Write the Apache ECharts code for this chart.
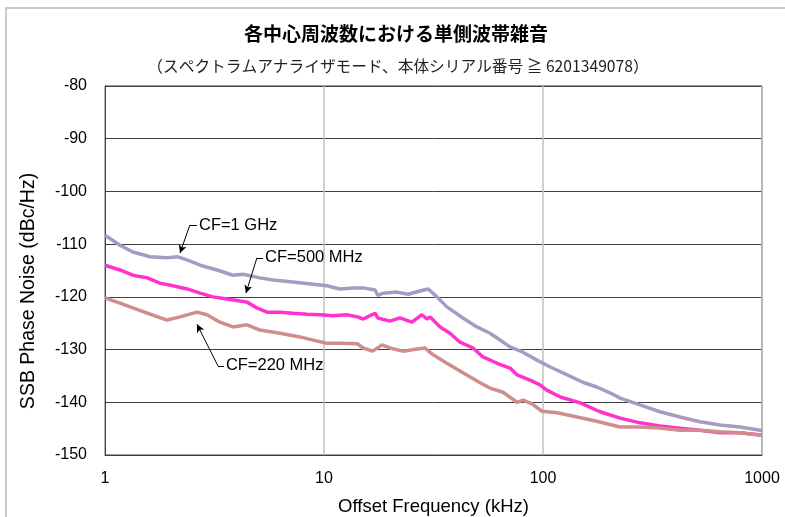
<!DOCTYPE html>
<html>
<head>
<meta charset="utf-8">
<script src="https://cdn.jsdelivr.net/npm/echarts@6/dist/echarts.min.js"></script>
<style>
  html, body { margin: 0; padding: 0; background: #fff; }
  #chart { width: 785px; height: 517px; }
</style>
</head>
<body>
<div id="chart"></div>
<script>
// Offset frequency (kHz) and SSB phase noise (dBc/Hz) for each carrier frequency
const cf1GHzFreq = [1, 1.02, 1.17, 1.34, 1.61, 1.92, 2.15, 2.37, 2.72, 3.25, 3.84, 4.27, 5.10, 5.85, 7.22, 8.91, 10.3, 11.8, 13.6, 15.1, 17.1, 17.6, 18.6, 21.5, 24.2, 27.4, 29.9, 32.8, 36.4, 43.1, 49.9, 57.3, 61.7, 70.7, 81.0, 93.9, 108, 129, 152, 176, 202, 225, 277, 342, 422, 521, 643, 793, 979, 1000];
const cf1GHzDb = [-108.3, -108.6, -110.2, -111.5, -112.4, -112.6, -112.4, -113.0, -114.0, -114.9, -115.9, -115.7, -116.4, -116.8, -117.2, -117.6, -117.9, -118.5, -118.3, -118.3, -118.7, -119.7, -119.3, -119.1, -119.5, -118.9, -118.5, -120.0, -121.9, -124.0, -125.7, -126.9, -127.8, -129.5, -130.5, -132.0, -133.3, -134.8, -136.2, -137.1, -138.2, -139.2, -140.5, -141.8, -142.8, -143.7, -144.3, -144.7, -145.3, -145.3];

const cf500MHzFreq = [1, 1.02, 1.17, 1.34, 1.56, 1.78, 2.04, 2.37, 2.72, 3.11, 3.61, 4.14, 4.45, 4.94, 5.49, 6.30, 7.22, 8.36, 9.59, 11.0, 12.7, 14.2, 15.1, 17.1, 17.6, 20.0, 22.2, 25.2, 28.0, 29.5, 30.5, 33.9, 37.6, 41.8, 47.9, 53.2, 61.7, 70.7, 76.1, 87.2, 96.9, 104, 120, 148, 182, 225, 277, 342, 422, 521, 643, 793, 979, 1000];
const cf500MHzDb = [-114.0, -114.1, -114.9, -115.9, -116.4, -117.4, -117.9, -118.5, -119.3, -120.0, -120.4, -120.8, -121.0, -122.1, -122.9, -122.9, -123.1, -123.3, -123.4, -123.6, -123.4, -123.8, -124.2, -123.1, -124.0, -124.6, -124.0, -124.8, -123.4, -124.2, -123.8, -125.7, -126.9, -128.6, -129.7, -131.4, -132.6, -133.5, -134.8, -135.8, -136.7, -137.7, -139.0, -140.1, -141.8, -143.0, -143.9, -144.5, -144.9, -145.3, -145.8, -145.8, -146.2, -146.2];

const cf220MHzFreq = [1, 1.02, 1.17, 1.34, 1.61, 1.92, 2.20, 2.63, 2.92, 3.35, 3.84, 4.45, 5.10, 6.30, 7.77, 8.91, 10.3, 11.8, 14.2, 15.1, 16.7, 18.4, 20.0, 22.9, 26.6, 28.9, 31.5, 36.4, 43.1, 51.6, 57.3, 65.7, 76.1, 81.0, 89.1, 98.9, 116, 143, 176, 225, 277, 342, 422, 521, 643, 793, 979, 1000];
const cf220MHzDb = [-120.2, -120.4, -121.2, -122.1, -123.3, -124.4, -123.8, -122.9, -123.4, -124.8, -125.7, -125.3, -126.3, -126.9, -127.6, -128.2, -128.8, -128.8, -128.9, -129.7, -130.3, -129.1, -129.7, -130.3, -129.9, -129.7, -131.0, -132.6, -134.4, -136.3, -137.3, -138.1, -140.0, -139.6, -140.3, -141.7, -142.0, -142.8, -143.6, -144.7, -144.7, -144.9, -145.3, -145.3, -145.6, -145.8, -146.2, -146.2];

// Axis ticks
const xTicks = [1, 10, 100, 1000];
const yTicks = [-150, -140, -130, -120, -110, -100, -90, -80];

// Callout labels: text anchor and leader line points [freq, dB]
const calloutText = ['CF=1 GHz', 'CF=500 MHz', 'CF=220 MHz'];
const calloutAnchor = [[2.63, -106.4], [5.27, -112.6], [3.49, -133.1]];
const calloutBend = [[2.44, -106.4], [4.94, -112.6], [3.28, -133.1]];
const calloutTip = [[2.20, -111.7], [4.40, -119.3], [2.63, -125.2]];

const zip = (xs, ys) => xs.map((x, i) => [x, ys[i]]);

const FONT = '"Liberation Sans", Arial, sans-serif';
const JP = '"Noto Sans CJK JP", sans-serif';

const chart = echarts.init(document.getElementById('chart'), null, { renderer: 'canvas' });

const leaderLines = [];
calloutText.forEach((_, i) => {
  leaderLines.push([
    { coord: calloutAnchor[i], symbol: 'none' },
    { coord: calloutBend[i], symbol: 'none' }
  ]);
  leaderLines.push([
    { coord: calloutBend[i], symbol: 'none' },
    { coord: calloutTip[i], symbol: 'arrow', symbolSize: [6, 8] }
  ]);
});

const lineSeries = (name, data, color) => ({
  name, type: 'line', data,
  showSymbol: false, symbol: 'none',
  lineStyle: { color, width: 3.5 },
  itemStyle: { color },
  silent: true
});

chart.setOption({
  animation: false,
  graphic: [
    { type: 'rect', shape: { x: 6, y: 8, width: 800, height: 540 }, style: { fill: 'none', stroke: '#c9c9c9', lineWidth: 2 }, silent: true },
    { type: 'text', x: 396, y: 34, style: { text: '各中心周波数における単側波帯雑音', font: 'bold 19px ' + JP, fill: '#000', textAlign: 'center', textVerticalAlign: 'middle' } },
    { type: 'text', x: 398, y: 66, style: { text: '（スペクトラムアナライザモード、本体シリアル番号 ≧ 6201349078）', font: '15.7px ' + JP, fill: '#222', textAlign: 'center', textVerticalAlign: 'middle' } },
    { type: 'text', x: 29, y: 291, rotation: Math.PI / 2, style: { text: 'SSB Phase Noise (dBc/Hz)', font: '19.5px ' + FONT, fill: '#000', textAlign: 'center', textVerticalAlign: 'middle' } }
  ],
  grid: {
    left: 105, right: 23, top: 86, bottom: 62,
    outerBoundsMode: 'none', containLabel: false,
    show: true, borderColor: '#404040', borderWidth: 1, backgroundColor: 'transparent'
  },
  xAxis: {
    type: 'log', logBase: 10, min: xTicks[0], max: xTicks[xTicks.length - 1],
    name: 'Offset Frequency (kHz)', nameLocation: 'middle', nameGap: 42,
    nameTextStyle: { fontFamily: FONT, fontSize: 18.5, color: '#000' },
    axisLine: { lineStyle: { color: '#404040', width: 1 } },
    axisTick: { show: false },
    minorTick: { show: false },
    axisLabel: { fontFamily: FONT, fontSize: 16, color: '#000', margin: 16, formatter: v => String(v) },
    splitLine: { show: true, lineStyle: { color: '#c0c0c0', width: 1.5 } }
  },
  yAxis: {
    type: 'value', min: yTicks[0], max: yTicks[yTicks.length - 1], interval: 10,
    axisLine: { show: true, lineStyle: { color: '#404040', width: 1 } },
    axisTick: { show: false },
    axisLabel: { fontFamily: FONT, fontSize: 16, color: '#000', margin: 18 },
    splitLine: { show: true, lineStyle: { color: '#404040', width: 1 } }
  },
  series: [
    lineSeries('CF=1 GHz', zip(cf1GHzFreq, cf1GHzDb), '#a99ac2'),
    lineSeries('CF=500 MHz', zip(cf500MHzFreq, cf500MHzDb), '#ff33cc'),
    lineSeries('CF=220 MHz', zip(cf220MHzFreq, cf220MHzDb), '#cf8e8b'),
    {
      name: 'callouts', type: 'line', data: [], silent: true,
      markLine: {
        silent: true, animation: false,
        symbol: 'none',
        label: { show: false },
        lineStyle: { color: '#000', width: 1, type: 'solid' },
        emphasis: { disabled: true },
        data: leaderLines
      },
      markPoint: {
        silent: true, animation: false,
        symbol: 'circle', symbolSize: 0,
        label: { show: true, position: 'right', distance: 2, fontFamily: FONT, fontSize: 16.5, color: '#000', formatter: p => p.name },
        data: calloutText.map((t, i) => ({ name: t, coord: calloutAnchor[i] }))
      }
    }
  ]
});
</script>
</body>
</html>
